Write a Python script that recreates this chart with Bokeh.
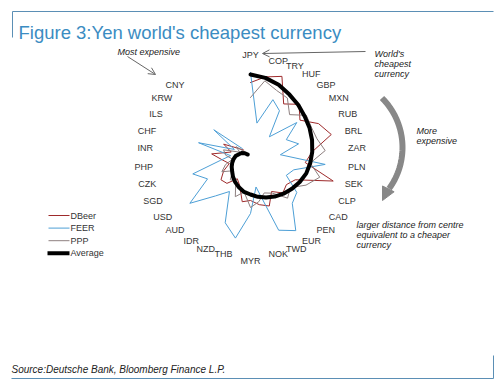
import numpy as np
from bokeh.plotting import figure
from bokeh.models import Range1d, Arrow, OpenHead, NormalHead, ColumnDataSource
from bokeh.embed import file_html
from bokeh.resources import INLINE
from bokeh.core.properties import value

# ---- data (radial units = distance from centre) ----
currencies = ["JPY", "COP", "TRY", "HUF", "GBP", "MXN", "RUB", "BRL", "ZAR", "PLN",
              "SEK", "CLP", "CAD", "PEN", "EUR", "TWD", "NOK", "MYR", "THB", "NZD",
              "IDR", "AUD", "USD", "SGD", "CZK", "PHP", "INR", "CHF", "ILS", "KRW", "CNY"]
n_slots = 34  # radar spokes (last three spokes are unlabelled / empty)

dbeer = [75, 82, 87, 63, 72, 62, 76, 84, 62, 55, 86, 50, 45, 48, 40, 52, 48, 43, 45, 30,
         25, 35, 37, 30, 22, 28, 39, 20, 30, 15, 10]
feer = [85, 35, 62, 55, 28, 58, 40, 50, 30, 75, 45, 40, 58, 62, 86, 78, 30, 56, 82, 70,
        40, 52, 76, 48, 60, 30, 20, 54, 18, 46, 12]
ppp = [60, 78, 72, 70, 58, 70, 68, 69, 75, 60, 72, 62, 50, 55, 42, 38, 45, 50, 35, 42,
       28, 30, 22, 32, 26, 18, 25, 28, 12, 18, 6]
average = [83, 81, 78, 74, 71, 68, 66, 64, 62, 60, 58, 55, 52, 49, 46, 43, 40, 37, 35, 32,
           29, 26, 23, 21, 19, 17, 15, 12, 10, 7, 4]

series_names = ["DBeer", "FEER", "PPP", "Average"]
series_colors = ["#9e2a2b", "#4d9fd6", "#8e8080", "#000000"]
series_widths = [1, 1, 1, 4]

# ---- layout constants ----
CX, CY = 250, 157
LABEL_R = 98

p = figure(width=497, height=383, x_range=Range1d(0, 497), y_range=Range1d(383, 0),
           output_backend="svg", toolbar_location=None, min_border=0,
           background_fill_color="white", border_fill_color="white")
p.axis.visible = False
p.grid.visible = False
p.outline_line_color = None

def polar(vals):
    idx = np.arange(len(vals))
    th = 2 * np.pi * idx / n_slots
    r = np.asarray(vals, dtype=float)
    return CX + r * np.sin(th), CY - r * np.cos(th)

for vals, col, lw in zip([dbeer, feer, ppp, average], series_colors, series_widths):
    xs, ys = polar(vals)
    p.line(xs, ys, line_color=col, line_width=lw, line_join="round", line_cap="round")

# category labels
th = 2 * np.pi * np.arange(len(currencies)) / n_slots
lx = CX + LABEL_R * np.sin(th)
ly = CY - LABEL_R * np.cos(th)
aligns, bases = [], []
for t in th:
    s, c = np.sin(t), np.cos(t)
    aligns.append("left" if s > 0.05 else ("right" if s < -0.05 else "center"))
    bases.append("bottom" if c > 0.995 else ("top" if c < -0.995 else "middle"))
src = ColumnDataSource(dict(x=lx, y=ly, t=currencies, a=aligns, b=bases))
p.text(x="x", y="y", text="t", text_align="a", text_baseline="b", source=src,
       text_font=value("Liberation Sans"), text_font_size="9px", text_color="#333333")

# frame lines
frame_col = "#5b8fb5"
p.line([493, 12, 12], [11, 11, 37], line_color=frame_col, line_width=1)
p.line([493, 493, 11], [355, 378, 378], line_color=frame_col, line_width=1)

# title & source
p.text(x=[18], y=[32], text=["Figure 3:Yen world's cheapest currency"],
       text_font=value("Liberation Sans"), text_font_size="18.5px", text_color="#3b8cc2",
       text_baseline="alphabetic")
p.text(x=[11], y=[369], text=["Source:Deutsche Bank, Bloomberg Finance L.P."],
       text_font=value("Liberation Sans"), text_font_size="10px", text_font_style="italic",
       text_color="#222222", text_baseline="alphabetic")

# annotations
def itext(x, y, lines, size="9px"):
    for i, s in enumerate(lines):
        p.text(x=[x], y=[y + i * 10.2], text=[s], text_font=value("Liberation Sans"),
               text_font_size=size, text_font_style="italic", text_color="#222222",
               text_baseline="middle")

itext(117, 51, ["Most expensive"])
itext(374, 53, ["World's", "cheapest", "currency"])
itext(416, 130, ["More", "expensive"])
itext(356, 224, ["larger distance  from centre", "equivalent to a cheaper", "currency"])

p.add_layout(Arrow(end=OpenHead(size=7, line_color="#666666", line_width=1),
                   x_start=127, y_start=56, x_end=155, y_end=74,
                   line_color="#666666", line_width=1))
p.add_layout(Arrow(end=OpenHead(size=7, line_color="#666666", line_width=1),
                   x_start=365, y_start=51, x_end=262, y_end=53,
                   line_color="#666666", line_width=1))

# big curved grey arrow
phi = np.linspace(np.radians(-45), np.radians(36), 40)
p.line(332 + 70 * np.cos(phi), 147 + 70 * np.sin(phi), line_color="#888888",
       line_width=6, line_cap="butt")
p.add_layout(Arrow(end=NormalHead(size=13, fill_color="#888888", line_color="#888888"),
                   x_start=388, y_start=188, x_end=382, y_end=200,
                   line_color="#888888", line_width=1))

# legend (drawn by hand)
for i, (nm, col, lw) in enumerate(zip(series_names, series_colors, series_widths)):
    yy = 215 + i * 12.6
    p.line([48 if lw == 1 else 47, 69], [yy, yy], line_color=col, line_width=lw)
    p.text(x=[70], y=[yy], text=[nm], text_font=value("Liberation Sans"),
           text_font_size="9px", text_color="#333333", text_baseline="middle")

open("out.html", "w").write(file_html(p, INLINE))
